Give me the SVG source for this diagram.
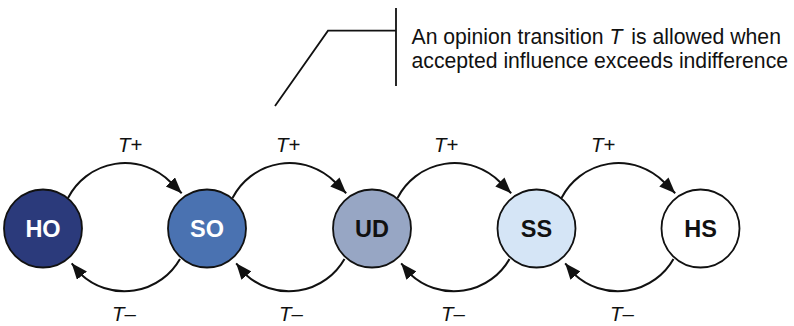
<svg xmlns="http://www.w3.org/2000/svg" width="794" height="326" viewBox="0 0 794 326">
  <style>
    .node { stroke: #111; stroke-width: 1.8; }
    .lbl { font-family: "Liberation Sans", Arial, sans-serif; font-weight: bold; font-size: 23.5px; text-anchor: middle; }
    .conn { fill: none; stroke: #111; stroke-width: 2; }
    .tl { font-family: "Liberation Sans", Arial, sans-serif; font-size: 20.5px; fill: #111; }
    .it { font-style: italic; }
    .note { font-family: "Liberation Sans", Arial, sans-serif; font-size: 21.2px; fill: #111; }
    .callout { fill: none; stroke: #111; stroke-width: 1.8; }
  </style>
  <defs>
    <marker id="ah" markerUnits="userSpaceOnUse" markerWidth="18" markerHeight="14" refX="16" refY="6.5" orient="auto">
      <path d="M0,0 L16,6.5 L0,13 z" fill="#111"/>
    </marker>
  </defs>
  <rect width="794" height="326" fill="#fff"/>

  <g id="callout">
    <path class="callout" d="M396,8 V86 M396,30.7 H328 L275,106"/>
    <text class="note" x="411.5" y="44.3">An opinion transition <tspan class="it">T</tspan><tspan dx="9">is allowed when</tspan></text>
    <text class="note" x="411.5" y="68.3">accepted influence exceeds indifference</text>
  </g>

  <g id="connectors">
    <path class="conn" marker-end="url(#ah)" d="M68,198 A64,64 0 0 1 170.4,182 L181.7,193.3"/>
    <path class="conn" marker-end="url(#ah)" d="M180,259 A64,64 0 0 1 80.8,274.2 L71.7,263.3"/>
    <path class="conn" marker-end="url(#ah)" d="M232.5,198 A64,64 0 0 1 334.9,182 L346.2,193.3"/>
    <path class="conn" marker-end="url(#ah)" d="M344.5,259 A64,64 0 0 1 245.3,274.2 L236.2,263.3"/>
    <path class="conn" marker-end="url(#ah)" d="M397.5,198 A64,64 0 0 1 499.9,182 L511.2,193.3"/>
    <path class="conn" marker-end="url(#ah)" d="M509.5,259 A64,64 0 0 1 410.3,274.2 L401.2,263.3"/>
    <path class="conn" marker-end="url(#ah)" d="M561.5,198 A64,64 0 0 1 663.9,182 L675.2,193.3"/>
    <path class="conn" marker-end="url(#ah)" d="M673.5,259 A64,64 0 0 1 574.3,274.2 L565.2,263.3"/>
    <text class="tl" x="118" y="152"><tspan class="it">T</tspan>+</text>
    <text class="tl" x="276" y="152"><tspan class="it">T</tspan>+</text>
    <text class="tl" x="434" y="152"><tspan class="it">T</tspan>+</text>
    <text class="tl" x="591" y="152"><tspan class="it">T</tspan>+</text>
    <text class="tl" x="112" y="320.5"><tspan class="it">T</tspan>–</text>
    <text class="tl" x="279" y="320.5"><tspan class="it">T</tspan>–</text>
    <text class="tl" x="441" y="320.5"><tspan class="it">T</tspan>–</text>
    <text class="tl" x="610" y="320.5"><tspan class="it">T</tspan>–</text>
  </g>

  <g id="HO">
    <circle class="node" cx="43" cy="228.5" r="39" fill="#2b3a7b"/>
    <text class="lbl" x="43" y="237" fill="#fff">HO</text>
  </g>
  <g id="SO">
    <circle class="node" cx="207" cy="228.5" r="39" fill="#4a72b1"/>
    <text class="lbl" x="207" y="237" fill="#fff">SO</text>
  </g>
  <g id="UD">
    <circle class="node" cx="372" cy="228.5" r="39" fill="#97a6c4"/>
    <text class="lbl" x="372" y="237" fill="#111">UD</text>
  </g>
  <g id="SS">
    <circle class="node" cx="536.5" cy="228.5" r="39" fill="#d5e5f6"/>
    <text class="lbl" x="536.5" y="237" fill="#111">SS</text>
  </g>
  <g id="HS">
    <circle class="node" cx="700.5" cy="228.5" r="39" fill="#fff"/>
    <text class="lbl" x="700.5" y="237" fill="#111">HS</text>
  </g>
</svg>
